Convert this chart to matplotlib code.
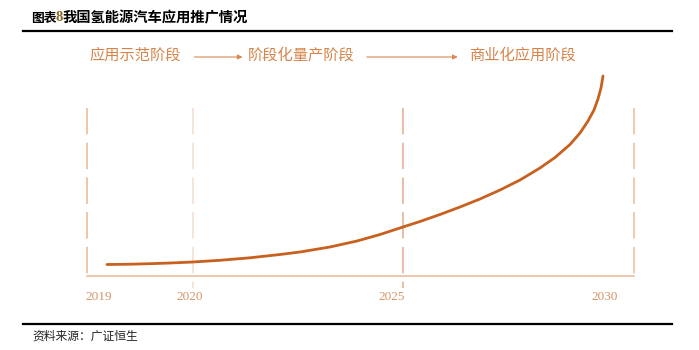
import matplotlib
matplotlib.use("Agg")
import matplotlib.pyplot as plt
from matplotlib.lines import Line2D

plt.rcParams['lines.scale_dashes'] = False
CJK = ['Noto Sans CJK SC', 'DejaVu Sans']

# ---- data ----
title_prefix = "图表"
title_num = "8"
title_rest = "我国氢能源汽车应用推广情况"
source = "资料来源：广证恒生"
stages = ["应用示范阶段", "阶段化量产阶段", "商业化应用阶段"]
stage_x = [8.9, 39.2, 79.7]
year_labels = ["2019", "2020", "2025", "2030"]
year_label_x = [2.3, 18.9, 55.8, 94.7]
year_line_x = [0.0, 19.5, 57.8, 100.0]
# curve (position on 0-100 scale, level)
curve_x = [3.74, 7.95, 11.60, 15.25, 19.45, 24.38, 29.86, 35.34, 38.99, 44.47,
           49.41, 53.61, 57.81, 60.91, 64.57, 68.22, 71.87, 75.53, 79.18, 82.83,
           85.57, 88.31, 90.14, 91.60, 92.69, 93.42, 93.97, 94.34]
curve_y = [11.5, 11.8, 12.3, 13.0, 14.0, 15.7, 18.2, 21.5, 24.0, 29.0,
           35.0, 41.5, 49.0, 54.5, 61.5, 69.0, 77.0, 86.0, 96.0, 108.0,
           118.5, 131.5, 143.0, 155.0, 166.0, 177.0, 188.0, 200.0]

fig = plt.figure(figsize=(6.99, 3.5), dpi=100)
W, H = 699, 350

def fx(px):
    return px / W

def fy(py):
    return 1 - py / H

# header/footer rules
fig.add_artist(Line2D([fx(23), fx(672)], [fy(31), fy(31)], color='black', lw=1.6))
fig.add_artist(Line2D([fx(23), fx(672)], [fy(324), fy(324)], color='black', lw=1.6))

fig.text(fx(31), fy(18), title_prefix, family=CJK, fontsize=9.2, weight='bold',
         va='center', ha='left', color='black')
fig.text(fx(55), fy(17.5), title_num, family=['Liberation Serif'], fontsize=10.5, weight='bold',
         va='center', ha='left', color='#8a6a28')
fig.text(fx(63), fy(18), title_rest, family=CJK, fontsize=10.3, weight='bold',
         va='center', ha='left', color='black')
fig.text(fx(32), fy(336), source, family=CJK, fontsize=8.5, va='center', ha='left',
         color='#222222', weight='medium')

# chart axes
ax = fig.add_axes([fx(86.5), fy(276), fx(634) - fx(86.5), fy(31) - fy(276)])
ax.set_xlim(0, 100)
ax.set_ylim(0, 245)
ax.axis('off')

line_cols = ['#ecb68e', '#f2dccb', '#e2ad8c', '#efbb93']
line_bottom = [0, -12, -12, 0]
for x, c, b in zip(year_line_x, line_cols, line_bottom):
    ax.plot([x, x], [168, b], color=c, lw=1.1, linestyle=(0, (19, 6)),
            clip_on=False, solid_capstyle='butt')

ax.plot([0, 100], [0, 0], color='#e8b896', lw=1.1, clip_on=False)

for lab, x in zip(year_labels, year_label_x):
    ax.text(x, -21, lab, family=['Liberation Serif'], fontsize=9.5, color='#d4956a',
            ha='center', va='center')

for lab, x in zip(stages, stage_x):
    ax.text(x, 221, lab, family=CJK, fontsize=11, color='#d6844a',
            ha='center', va='center')

arrows = [(19.7, 28.5), (51.2, 67.8)]
for a, b in arrows:
    ax.annotate('', xy=(b, 219), xytext=(a, 219),
                arrowprops=dict(arrowstyle='-|>', color='#d98a55', lw=0.8,
                                mutation_scale=7, shrinkA=0, shrinkB=0),
                annotation_clip=False)

ax.plot(curve_x, curve_y, color='#c8601e', lw=2.0, solid_capstyle='round',
        solid_joinstyle='round', clip_on=False)

fig.savefig('out.png', dpi=100)
